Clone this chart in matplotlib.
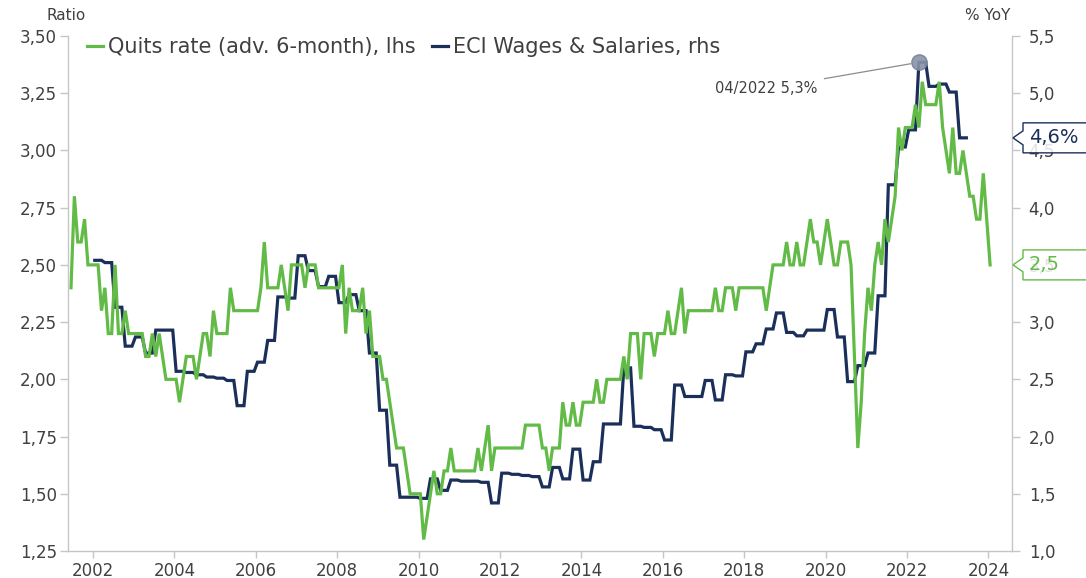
import numpy as np
import pandas as pd
import matplotlib
matplotlib.use("Agg")
import matplotlib.pyplot as plt
import matplotlib.transforms as mtransforms
from matplotlib.patches import Polygon
from matplotlib.ticker import FuncFormatter

# Quits rate, monthly, already advanced 6 months (Jun 2001 .. Jan 2024)
quits = [
    2.4, 2.8, 2.6, 2.6, 2.7, 2.5, 2.5,                                # 2001 Jun-Dec
    2.5, 2.5, 2.3, 2.4, 2.2, 2.2, 2.5, 2.2, 2.2, 2.3, 2.2, 2.2,        # 2002
    2.2, 2.2, 2.2, 2.1, 2.1, 2.2, 2.1, 2.2, 2.1, 2.0, 2.0, 2.0,        # 2003
    2.0, 1.9, 2.0, 2.1, 2.1, 2.1, 2.0, 2.1, 2.2, 2.2, 2.1, 2.3,        # 2004
    2.2, 2.2, 2.2, 2.2, 2.4, 2.3, 2.3, 2.3, 2.3, 2.3, 2.3, 2.3,        # 2005
    2.3, 2.4, 2.6, 2.4, 2.4, 2.4, 2.4, 2.5, 2.4, 2.3, 2.5, 2.5,        # 2006
    2.5, 2.5, 2.4, 2.5, 2.5, 2.5, 2.4, 2.4, 2.4, 2.4, 2.4, 2.4,        # 2007
    2.4, 2.5, 2.2, 2.4, 2.3, 2.3, 2.3, 2.4, 2.2, 2.3, 2.1, 2.1,        # 2008
    2.1, 2.0, 2.0, 1.9, 1.8, 1.7, 1.7, 1.7, 1.6, 1.5, 1.5, 1.5,        # 2009
    1.5, 1.3, 1.4, 1.5, 1.6, 1.5, 1.5, 1.6, 1.6, 1.7, 1.6, 1.6,        # 2010
    1.6, 1.6, 1.6, 1.6, 1.6, 1.7, 1.6, 1.7, 1.8, 1.6, 1.7, 1.7,        # 2011
    1.7, 1.7, 1.7, 1.7, 1.7, 1.7, 1.7, 1.8, 1.8, 1.8, 1.8, 1.8,        # 2012
    1.7, 1.7, 1.6, 1.7, 1.7, 1.7, 1.9, 1.8, 1.8, 1.9, 1.8, 1.8,        # 2013
    1.9, 1.9, 1.9, 1.9, 2.0, 1.9, 1.9, 2.0, 2.0, 2.0, 2.0, 2.0,        # 2014
    2.1, 2.0, 2.2, 2.2, 2.2, 2.0, 2.2, 2.2, 2.2, 2.1, 2.2, 2.2,        # 2015
    2.2, 2.3, 2.2, 2.2, 2.3, 2.4, 2.2, 2.3, 2.3, 2.3, 2.3, 2.3,        # 2016
    2.3, 2.3, 2.3, 2.4, 2.3, 2.3, 2.4, 2.4, 2.4, 2.3, 2.4, 2.4,        # 2017
    2.4, 2.4, 2.4, 2.4, 2.4, 2.4, 2.3, 2.4, 2.5, 2.5, 2.5, 2.5,        # 2018
    2.6, 2.5, 2.5, 2.6, 2.5, 2.5, 2.6, 2.7, 2.6, 2.6, 2.5, 2.6,        # 2019
    2.7, 2.6, 2.5, 2.5, 2.6, 2.6, 2.6, 2.5, 2.1, 1.7, 1.9, 2.2,        # 2020
    2.4, 2.3, 2.5, 2.6, 2.5, 2.7, 2.6, 2.7, 2.8, 3.1, 3.0, 3.1,        # 2021
    3.1, 3.1, 3.2, 3.1, 3.3, 3.2, 3.2, 3.2, 3.2, 3.3, 3.1, 3.0,        # 2022
    2.9, 3.1, 2.9, 2.9, 3.0, 2.9, 2.8, 2.8, 2.7, 2.7, 2.9, 2.7,        # 2023
    2.5,                                                              # 2024 Jan
]
quits_start = "2001-06"

# ECI wages & salaries, % YoY, quarterly (2002Q1 .. 2023Q2)
eci = [
    3.54, 3.52, 3.13, 2.79,
    2.87, 2.73, 2.93, 2.93,
    2.57, 2.56, 2.54, 2.52,
    2.51, 2.49, 2.27, 2.57,
    2.65, 2.84, 3.22, 3.21,
    3.58, 3.45, 3.31, 3.40,
    3.17, 3.24, 3.10, 2.73,
    2.23, 1.75, 1.47, 1.47,
    1.46, 1.63, 1.53, 1.62,
    1.61, 1.61, 1.60, 1.42,
    1.68, 1.67, 1.66, 1.65,
    1.56, 1.73, 1.63, 1.89,
    1.62, 1.78, 2.11, 2.11,
    2.60, 2.09, 2.08, 2.06,
    1.97, 2.45, 2.35, 2.35,
    2.49, 2.32, 2.54, 2.53,
    2.74, 2.81, 2.94, 3.08,
    2.91, 2.88, 2.93, 2.93,
    3.11, 2.87, 2.48, 2.62,
    2.73, 3.23, 4.20, 4.53,
    4.68, 5.27, 5.06, 5.08,
    5.01, 4.61,
]
eci_start = "2002-01"

peak_month = "2022-04"
peak_label = "04/2022 5,3%"
eci_last_label = "4,6%"
quits_last_label = "2,5"

year_ticks = list(range(2002, 2025, 2))
left_ticks = [1.25, 1.50, 1.75, 2.00, 2.25, 2.50, 2.75, 3.00, 3.25, 3.50]
right_ticks = [1.0, 1.5, 2.0, 2.5, 3.0, 3.5, 4.0, 4.5, 5.0, 5.5]

green = "#62bb46"
navy = "#1b2f5b"
grey = "#c6c6c6"
txt = "#404040"


def month_pos(start, n):
    p = pd.period_range(start, periods=n, freq="M")
    return np.asarray(p.year + (p.month - 0.5) / 12.0)


def value_tag(axis, yval, label, color):
    # left-pointing tag sitting on the right spine
    trans = mtransforms.blended_transform_factory(axis.transAxes, axis.transData)
    lo, hi = axis.get_ylim()
    px_y = (hi - lo) / 515.0
    px_x = 1.0 / 944.0
    verts = [
        (1.0 + 1 * px_x, yval),
        (1.0 + 11 * px_x, yval + 7 * px_y),
        (1.0 + 11 * px_x, yval + 15 * px_y),
        (1.0 + 95 * px_x, yval + 15 * px_y),
        (1.0 + 95 * px_x, yval - 15 * px_y),
        (1.0 + 11 * px_x, yval - 15 * px_y),
        (1.0 + 11 * px_x, yval - 7 * px_y),
    ]
    poly = Polygon(verts, closed=True, transform=trans, clip_on=False,
                   facecolor=(1, 1, 1, 0.85), edgecolor=color, lw=1.0, zorder=20)
    axis.add_patch(poly)
    axis.text(1.0 + 17 * px_x, yval, label, transform=trans, color=color,
              fontsize=14, va="center", ha="left", clip_on=False, zorder=21)


plt.rcParams["font.family"] = ["DejaVu Sans"]

fig = plt.figure(figsize=(10.86, 5.78), dpi=100)
ax = fig.add_axes([68 / 1086, 27 / 578, 944 / 1086, 515 / 578])
ax2 = ax.twinx()
ax.set_zorder(ax2.get_zorder() + 1)
ax.patch.set_visible(False)

x_q = month_pos(quits_start, len(quits))
x_e = month_pos(eci_start, len(eci) * 3)
eci_monthly = np.repeat(eci, 3)

l1, = ax.plot(x_q, quits, color=green, lw=2.3, solid_joinstyle="miter",
              label="Quits rate (adv. 6-month), lhs")
l2, = ax2.plot(x_e, eci_monthly, color=navy, lw=2.3, solid_joinstyle="miter",
               label="ECI Wages & Salaries, rhs")

ax.set_xlim(2001.385, 2024.58)
ax.set_ylim(1.25, 3.5)
ax2.set_ylim(1.0, 5.5)

ax.set_xticks(year_ticks)
ax.set_xticklabels([str(y) for y in year_ticks])
ax.set_yticks(left_ticks)
ax2.set_yticks(right_ticks)
ax.yaxis.set_major_formatter(FuncFormatter(lambda v, p: f"{v:.2f}".replace(".", ",")))
ax2.yaxis.set_major_formatter(FuncFormatter(lambda v, p: f"{v:.1f}".replace(".", ",")))

for s in ["top", "right"]:
    ax.spines[s].set_visible(False)
for s in ["top", "left", "bottom"]:
    ax2.spines[s].set_visible(False)
for sp in [ax.spines["left"], ax.spines["bottom"], ax2.spines["right"]]:
    sp.set_color(grey)
    sp.set_linewidth(1.0)

ax.tick_params(axis="y", length=6, width=1, color=grey, labelsize=12,
               labelcolor=txt, pad=2)
ax.tick_params(axis="x", length=5, width=1, color=grey, labelsize=12,
               labelcolor=txt, pad=3)
ax2.tick_params(axis="y", length=6, width=1, color=grey, labelsize=12,
                labelcolor=txt, pad=6)

# peak annotation
peak_x = month_pos(peak_month, 1)[0]
peak_y = max(eci)
ax2.plot([peak_x], [peak_y], "o", ms=11, mfc="#8a94a8", mec="#76809a",
         alpha=0.9, zorder=5)
ax2.annotate(peak_label, xy=(peak_x, peak_y), xytext=(-73, -19),
             textcoords="offset points", ha="right", va="center",
             fontsize=10.5, color=txt,
             arrowprops=dict(arrowstyle="-", color="#8c8c8c", lw=0.9,
                             shrinkA=3, shrinkB=6))

ax.legend(handles=[l1, l2], loc="center left", bbox_to_anchor=(0.02, 0.979),
          ncol=2, frameon=False, fontsize=15, handlelength=0.75,
          handletextpad=0.25, columnspacing=0.8, borderpad=0,
          borderaxespad=0, labelcolor=txt)

fig.text(46 / 1086, 1 - 16 / 578, "Ratio", fontsize=11, color=txt,
         ha="left", va="center")
fig.text(1010 / 1086, 1 - 16 / 578, "% YoY", fontsize=11, color=txt,
         ha="right", va="center")

value_tag(ax2, eci[-1], eci_last_label, navy)
value_tag(ax, quits[-1], quits_last_label, green)

fig.savefig("out.png", dpi=100)
plt.close(fig)
